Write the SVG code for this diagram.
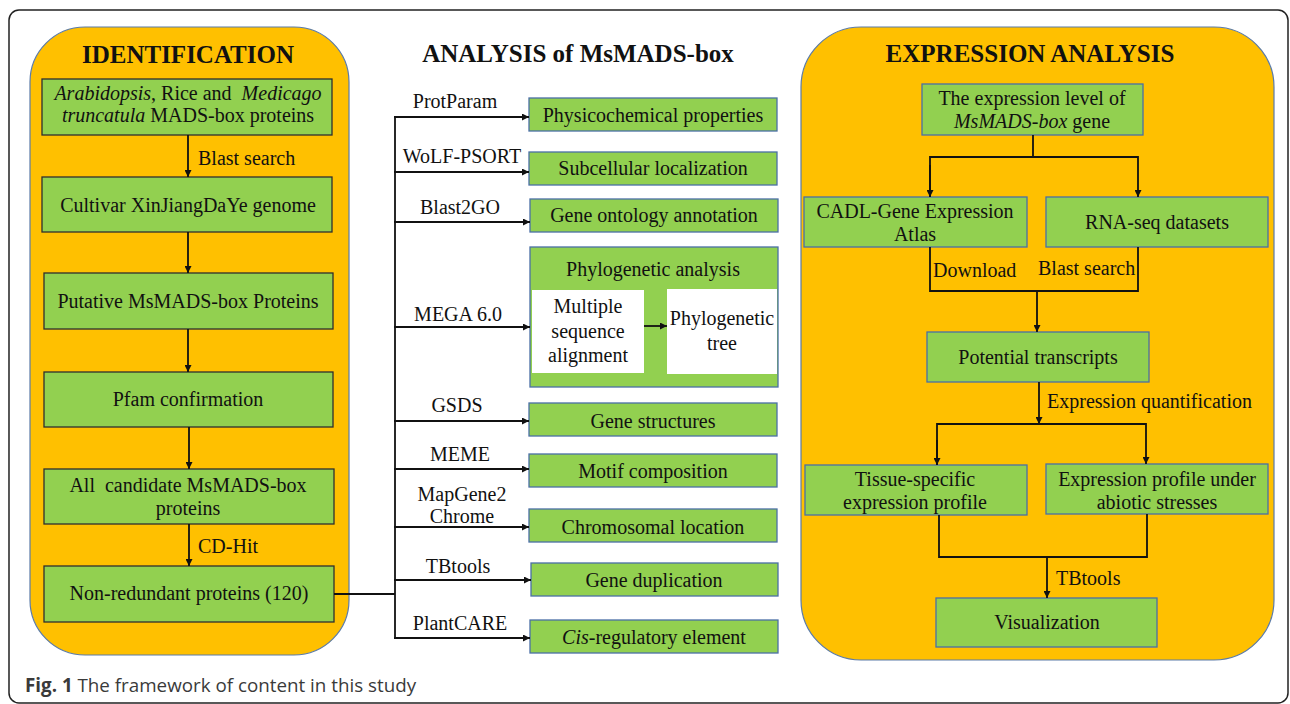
<svg xmlns="http://www.w3.org/2000/svg" width="1290" height="704" viewBox="0 0 1290 704">
<style>
.panel{fill:#FFC000;stroke:#5B7BA8;stroke-width:1.2}
.gl{fill:#92D050;stroke:#2E2E2E;stroke-width:1.3}
.gb{fill:#92D050;stroke:#4A6FA5;stroke-width:1.3}
.wb{fill:#FFFFFF;stroke:none}
.t{font-family:"Liberation Serif","Times New Roman",serif;font-size:20px;fill:#111}
.c{text-anchor:middle}
.h{font-family:"Liberation Serif","Times New Roman",serif;font-size:25px;font-weight:bold;fill:#111;text-anchor:middle}
.ln{fill:none;stroke:#111;stroke-width:1.8}
.cap{font-family:"Open Sans","Noto Sans",sans-serif;font-size:18.8px;fill:#3a3a3a}
</style>
<defs>
<marker id="ah" viewBox="0 0 10 10" refX="10" refY="5" markerWidth="7" markerHeight="7" markerUnits="userSpaceOnUse" orient="auto">
<path d="M0,0 L10,5 L0,10 z" fill="#111"/>
</marker>
</defs>
<rect x="9" y="10" width="1279" height="693" rx="10" fill="#FFFFFF" stroke="#222" stroke-width="1.5"/>

<g id="panel-identification">
<rect class="panel" x="30" y="27" width="319" height="628" rx="55"/>
<text class="h" x="188" y="63">IDENTIFICATION</text>
</g>
<g id="panel-expression">
<rect class="panel" x="801" y="27" width="473" height="633" rx="60"/>
<text class="h" x="1030" y="62">EXPRESSION ANALYSIS</text>
</g>
<g id="title-analysis">
<text class="h" x="578" y="62">ANALYSIS of MsMADS-box</text>
</g>

<g id="n-source">
<rect class="gl" x="42" y="79" width="290" height="56"/>
<text class="t c" x="188" y="100" xml:space="preserve"><tspan font-style="italic">Arabidopsis</tspan>, Rice and  <tspan font-style="italic">Medicago</tspan></text>
<text class="t c" x="188" y="122"><tspan font-style="italic">truncatula</tspan> MADS-box proteins</text>
</g>
<g id="n-genome">
<rect class="gl" x="42" y="177" width="290" height="55"/>
<text class="t c" x="188" y="212">Cultivar XinJiangDaYe genome</text>
</g>
<g id="n-putative">
<rect class="gl" x="44" y="273" width="289" height="56"/>
<text class="t c" x="188" y="308">Putative MsMADS-box Proteins</text>
</g>
<g id="n-pfam">
<rect class="gl" x="44" y="372" width="289" height="55"/>
<text class="t c" x="188" y="406">Pfam confirmation</text>
</g>
<g id="n-candidate">
<rect class="gl" x="44" y="469" width="290" height="55"/>
<text class="t c" x="188" y="492" xml:space="preserve">All  candidate MsMADS-box</text>
<text class="t c" x="188" y="515">proteins</text>
</g>
<g id="n-nonred">
<rect class="gl" x="44" y="566" width="290" height="56"/>
<text class="t c" x="189" y="600">Non-redundant proteins (120)</text>
</g>

<g id="n-physico">
<rect class="gb" x="529" y="98" width="248" height="33"/>
<text class="t c" x="653" y="122">Physicochemical properties</text>
</g>
<g id="n-subcell">
<rect class="gb" x="529" y="152" width="248" height="33"/>
<text class="t c" x="653" y="175">Subcellular localization</text>
</g>
<g id="n-go">
<rect class="gb" x="530" y="199" width="248" height="33"/>
<text class="t c" x="654" y="222">Gene ontology annotation</text>
</g>
<g id="n-phylo">
<rect class="gb" x="530" y="247" width="248" height="140"/>
<text class="t c" x="653" y="276">Phylogenetic analysis</text>
<rect class="wb" x="532" y="290" width="112" height="83"/>
<text class="t c" x="588" y="313">Multiple</text>
<text class="t c" x="588" y="338">sequence</text>
<text class="t c" x="588" y="362">alignment</text>
<rect class="wb" x="667" y="289" width="110" height="85"/>
<text class="t c" x="722" y="325">Phylogenetic</text>
<text class="t c" x="722" y="350">tree</text>
</g>
<g id="n-structure">
<rect class="gb" x="529" y="403" width="248" height="33"/>
<text class="t c" x="653" y="428">Gene structures</text>
</g>
<g id="n-motif">
<rect class="gb" x="529" y="454" width="248" height="33"/>
<text class="t c" x="653" y="478">Motif composition</text>
</g>
<g id="n-chrom">
<rect class="gb" x="529" y="509" width="248" height="33"/>
<text class="t c" x="653" y="534">Chromosomal location</text>
</g>
<g id="n-dup">
<rect class="gb" x="531" y="563" width="247" height="33"/>
<text class="t c" x="654" y="587">Gene duplication</text>
</g>
<g id="n-cis">
<rect class="gb" x="530" y="620" width="248" height="33"/>
<text class="t c" x="654" y="644"><tspan font-style="italic">Cis</tspan>-regulatory element</text>
</g>

<g id="n-exprlevel">
<rect class="gb" x="922" y="84" width="221" height="51"/>
<text class="t c" x="1032" y="105">The expression level of</text>
<text class="t c" x="1032" y="128"><tspan font-style="italic">MsMADS-box</tspan> gene</text>
</g>
<g id="n-cadl">
<rect class="gb" x="804" y="197" width="223" height="50"/>
<text class="t c" x="915" y="218">CADL-Gene Expression</text>
<text class="t c" x="915" y="241">Atlas</text>
</g>
<g id="n-rnaseq">
<rect class="gb" x="1046" y="197" width="222" height="50"/>
<text class="t c" x="1157" y="229">RNA-seq datasets</text>
</g>
<g id="n-transcripts">
<rect class="gb" x="927" y="332" width="222" height="50"/>
<text class="t c" x="1038" y="364">Potential transcripts</text>
</g>
<g id="n-tissue">
<rect class="gb" x="805" y="465" width="222" height="50"/>
<text class="t c" x="915" y="486">Tissue-specific</text>
<text class="t c" x="915" y="509">expression profile</text>
</g>
<g id="n-abiotic">
<rect class="gb" x="1046" y="464" width="222" height="50"/>
<text class="t c" x="1157" y="486">Expression profile under</text>
<text class="t c" x="1157" y="509">abiotic stresses</text>
</g>
<g id="n-visual">
<rect class="gb" x="936" y="598" width="221" height="49"/>
<text class="t c" x="1047" y="629">Visualization</text>
</g>

<g id="connectors">
<line class="ln" x1="188" y1="135" x2="188" y2="177" marker-end="url(#ah)"/>
<line class="ln" x1="188" y1="232" x2="188" y2="273" marker-end="url(#ah)"/>
<line class="ln" x1="188" y1="329" x2="188" y2="372" marker-end="url(#ah)"/>
<line class="ln" x1="189" y1="427" x2="189" y2="469" marker-end="url(#ah)"/>
<line class="ln" x1="189" y1="524" x2="189" y2="566" marker-end="url(#ah)"/>
<polyline class="ln" points="334,594 395,594"/>
<line class="ln" x1="395" y1="116" x2="395" y2="639"/>
<line class="ln" x1="394" y1="117" x2="529" y2="117" marker-end="url(#ah)"/>
<line class="ln" x1="394" y1="172" x2="529" y2="172" marker-end="url(#ah)"/>
<line class="ln" x1="394" y1="222" x2="530" y2="222" marker-end="url(#ah)"/>
<line class="ln" x1="394" y1="327" x2="530" y2="327" marker-end="url(#ah)"/>
<line class="ln" x1="394" y1="421" x2="529" y2="421" marker-end="url(#ah)"/>
<line class="ln" x1="394" y1="469" x2="529" y2="469" marker-end="url(#ah)"/>
<line class="ln" x1="394" y1="527" x2="529" y2="527" marker-end="url(#ah)"/>
<line class="ln" x1="394" y1="580" x2="531" y2="580" marker-end="url(#ah)"/>
<line class="ln" x1="394" y1="638" x2="530" y2="638" marker-end="url(#ah)"/>
<line class="ln" x1="644" y1="326" x2="667" y2="326" marker-end="url(#ah)"/>

<line class="ln" x1="1033" y1="135" x2="1033" y2="157"/>
<polyline class="ln" points="930,197 930,157 1138,157 1138,197" marker-end="url(#ah)"/>
<line class="ln" x1="930" y1="165" x2="930" y2="197" marker-end="url(#ah)"/>
<polyline class="ln" points="930,247 930,291 1138,291 1138,247"/>
<line class="ln" x1="1037" y1="291" x2="1037" y2="332" marker-end="url(#ah)"/>
<line class="ln" x1="1039" y1="382" x2="1039" y2="424" marker-end="url(#ah)"/>
<polyline class="ln" points="937,465 937,424 1146,424 1146,464" marker-end="url(#ah)"/>
<line class="ln" x1="937" y1="440" x2="937" y2="465" marker-end="url(#ah)"/>
<polyline class="ln" points="939,515 939,557 1147,557 1147,514"/>
<line class="ln" x1="1047" y1="557" x2="1047" y2="598" marker-end="url(#ah)"/>
</g>

<g id="labels">
<text class="t" x="198" y="165">Blast search</text>
<text class="t" x="198" y="553">CD-Hit</text>
<text class="t c" x="455" y="108">ProtParam</text>
<text class="t c" x="462" y="163">WoLF-PSORT</text>
<text class="t c" x="460" y="214">Blast2GO</text>
<text class="t c" x="458" y="321">MEGA 6.0</text>
<text class="t c" x="457" y="412">GSDS</text>
<text class="t c" x="460" y="461">MEME</text>
<text class="t c" x="462" y="501">MapGene2</text>
<text class="t c" x="462" y="523">Chrome</text>
<text class="t c" x="458" y="573">TBtools</text>
<text class="t c" x="460" y="630">PlantCARE</text>
<text class="t" x="933" y="277">Download</text>
<text class="t" x="1038" y="275">Blast search</text>
<text class="t" x="1047" y="408">Expression quantification</text>
<text class="t" x="1056" y="585">TBtools</text>
</g>

<text class="cap" x="25" y="692"><tspan font-weight="bold">Fig. 1</tspan> The framework of content in this study</text>
</svg>
